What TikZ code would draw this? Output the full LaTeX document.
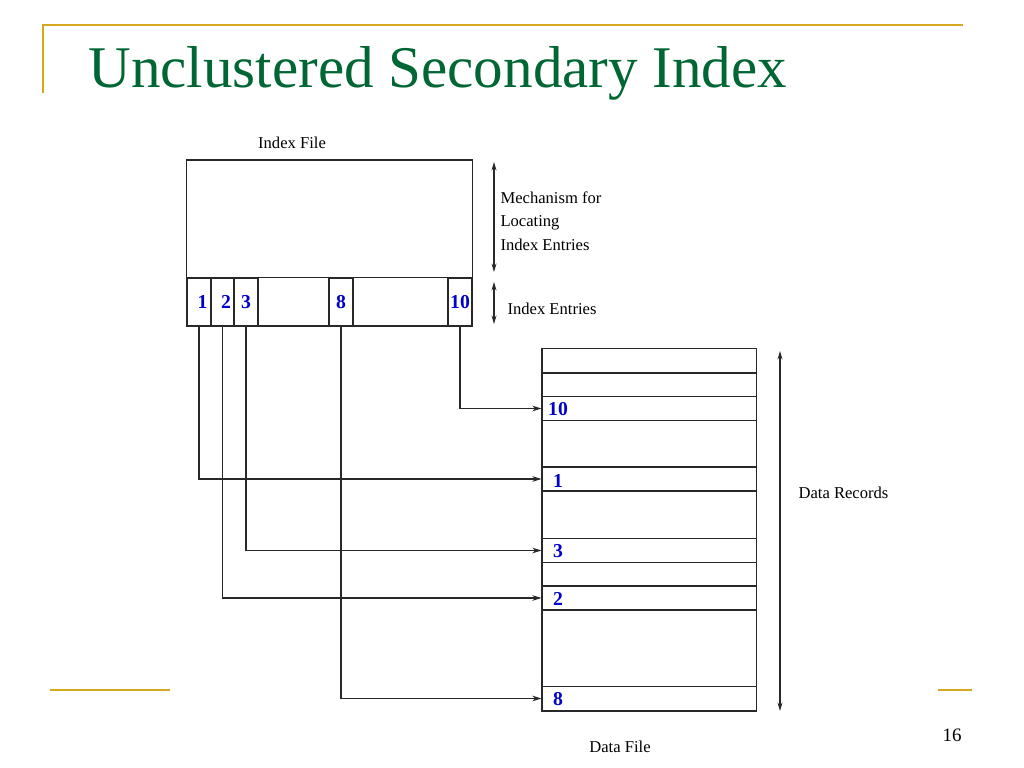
\documentclass[tikz,border=0pt]{standalone}
\usepackage{fontspec}
\setmainfont{Liberation Serif}
\usetikzlibrary{arrows.meta}
\definecolor{titlegreen}{RGB}{0,102,51}
\definecolor{rulegold}{RGB}{214,168,32}
\definecolor{numblue}{RGB}{0,0,200}
\definecolor{linegray}{RGB}{40,40,40}
\tikzset{
	cell/.style={draw, minimum width=0.6cm, minimum height=1.2cm, inner sep=0pt, text=numblue, font=\fontsize{14}{14}\selectfont\bfseries},
	rec/.style={draw, minimum width=5.35cm, minimum height=0.6cm, inner sep=0pt},
	num/.style={inner sep=0pt, text=numblue, font=\fontsize{14}{14}\selectfont\bfseries},
	lbl/.style={inner sep=0pt, font=\fontsize{11.8}{16.7}\selectfont},
	ptr/.style={-{Stealth[length=6.5pt,width=4pt]}},
	dim/.style={{Stealth[length=6pt,width=3.5pt]}-{Stealth[length=6pt,width=3.5pt]}},
	gold/.style={rulegold, line width=2pt},
}
\begin{document}
\begin{tikzpicture}[x=0.025cm, y=-0.025cm, line width=0.75pt, draw=linegray]
		\useasboundingbox (0,0) rectangle (1024,768);

		\draw[gold] (42,25) -- (963,25);
		\draw[gold] (43,25) -- (43,93);
		\draw[gold] (50,690) -- (170,690);
		\draw[gold] (938,690) -- (972,690);
		\node[anchor=base west, inner sep=0pt, text=titlegreen, font=\fontsize{42}{42}\selectfont] (title) at (88,88) {Unclustered Secondary Index};
		\node[inner sep=0pt, font=\fontsize{13.5}{13.5}\selectfont] (page) at (952,735) {16};

		\node[draw, minimum width=7.125cm, minimum height=4.15cm, inner sep=0pt] (ifile) at (329.5,243) {};
		\node[lbl] (ifname) at (292,143) {Index File};
		\node[cell] (e1) at (199,302) {\hspace{5pt}1};
		\node[cell] (e2) at (222.5,302) {\hspace{5pt}2};
		\node[cell] (e3) at (246,302) {3};
		\node[cell] (e8) at (341,302) {8};
		\node[cell] (e10) at (460,302) {10};
		\draw (ifile.west |- e1.north) -- (ifile.east |- e1.north);

		\draw[dim] (494,162) -- (494,272);
		\draw[dim] (494,282) -- (494,324);
		\node[lbl, anchor=west, align=left] (mech) at (500,221) {Mechanism for\\Locating\\Index Entries};
		\node[lbl, anchor=west] (entries) at (507,309) {Index Entries};

		\node[draw, minimum width=5.35cm, minimum height=9.05cm, inner sep=0pt] (dfile) at (649,530) {};
		\draw (542,373) -- (756,373);
		\node[rec] (r10) at (649,408.5) {};
		\node[rec] (r1) at (649,479) {};
		\node[rec] (r3) at (649,550.5) {};
		\node[rec] (r2) at (649,598) {};
		\node[rec] (r8) at (649,698.5) {};
		\node[num] (n10) at (558,409) {10};
		\node[num] (n1) at (558,481) {1};
		\node[num] (n3) at (558,551) {3};
		\node[num] (n2) at (558,599) {2};
		\node[num] (n8) at (558,699) {8};
		\node[lbl] (dfname) at (620,747) {Data File};

		\draw[dim] (780,351) -- (780,711);
		\node[lbl, anchor=west] (records) at (798,493) {Data Records};

		\draw[ptr] (e1.south) |- (r1.west);
		\draw[ptr] (e2.south) |- (r2.west);
		\draw[ptr] (e3.south) |- (r3.west);
		\draw[ptr] (e8.south) |- (r8.west);
		\draw[ptr] (e10.south) |- (r10.west);
	\end{tikzpicture}
\end{document}
